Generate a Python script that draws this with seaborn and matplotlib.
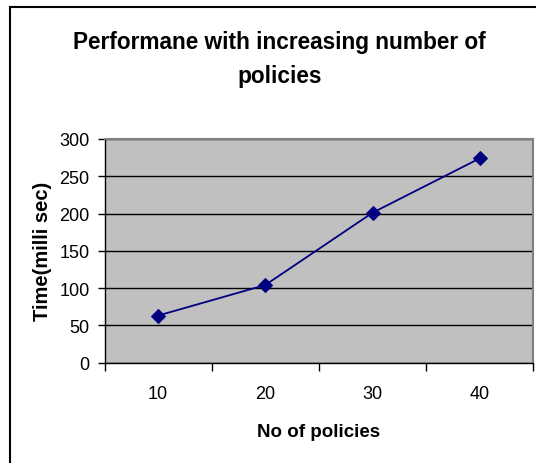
import numpy as np
import pandas as pd
import matplotlib
matplotlib.use("Agg")
import matplotlib.pyplot as plt
from matplotlib.patches import Rectangle
from matplotlib.ticker import FixedLocator, NullFormatter, FixedFormatter
import seaborn as sns

# Response time measured for a growing number of policies
policies = [10, 20, 30, 40]
time_ms = [63, 104, 201, 274]
y_ticks = [0, 50, 100, 150, 200, 250, 300]
title_lines = ["Performane with increasing number of", "policies"]

sns.set_theme(style="white")
plt.rcParams["font.family"] = ["Liberation Sans", "DejaVu Sans"]

W, H = 536, 464
fig = plt.figure(figsize=(W / 100, H / 100), dpi=100)
fig.patch.set_facecolor("white")

# plot area placement in pixels
left, right, top, bottom = 104.5, 533.3, 140.0, 363.5
ax = fig.add_axes([left / W, 1 - bottom / H, (right - left) / W, (bottom - top) / H])
ax.set_facecolor("#C0C0C0")

df = pd.DataFrame({"pos": np.arange(len(policies)), "time": time_ms})
sns.lineplot(data=df, x="pos", y="time", ax=ax, color="#000080", linewidth=1.3,
             marker="D", markersize=7.5, markeredgecolor="#000080", zorder=5)

ax.set_xlim(-0.5, len(policies) - 0.5)
ax.set_ylim(0, 300)

# horizontal gridlines
ax.set_yticks(y_ticks)
ax.yaxis.grid(True, color="black", linewidth=1.0)
ax.xaxis.grid(False)
ax.set_axisbelow(True)

# category boundaries carry the tick marks, centres carry the labels
ax.xaxis.set_major_locator(FixedLocator(np.arange(-0.5, len(policies), 1.0)))
ax.xaxis.set_major_formatter(NullFormatter())
ax.xaxis.set_minor_locator(FixedLocator(np.arange(len(policies))))
ax.xaxis.set_minor_formatter(FixedFormatter([str(p) for p in policies]))
ax.tick_params(axis="x", which="major", direction="out", length=6, width=1, color="black", bottom=True)
ax.tick_params(axis="x", which="minor", length=0, pad=16, labelsize=13, labelcolor="black")
ax.tick_params(axis="y", which="major", direction="out", length=5, width=1, color="black",
               left=True, pad=5.8, labelsize=13, labelcolor="black")

for side in ["left", "bottom"]:
    ax.spines[side].set_color("black")
    ax.spines[side].set_linewidth(1.0)
for side in ["top", "right"]:
    ax.spines[side].set_color("#808080")
    ax.spines[side].set_linewidth(1.5)

ax.set_xlabel("No of policies", fontsize=13.5, fontweight="bold", color="black")
ax.set_ylabel("Time(milli sec)", fontsize=14.5, fontweight="bold", color="black")
ax.xaxis.label.set_va("baseline")
ax.xaxis.set_label_coords(0.5, (bottom - 437) / (bottom - top))
ax.yaxis.label.set_va("center")
ax.yaxis.set_label_coords((42 - left) / (right - left), 0.5)

# two-line title, each line placed on its own baseline
for line, base in zip(title_lines, [49.3, 83.3]):
    fig.text(279.5 / W, 1 - base / H, line, ha="center", va="baseline",
             fontsize=16.3, fontweight="bold", color="black")

# chart border
fig.patches.append(Rectangle((10 / W, -0.2), 1.5, 1 - 8 / H + 0.2, transform=fig.transFigure,
                             fill=False, edgecolor="black", linewidth=1.5))

fig.savefig("out.png", dpi=100, facecolor="white")
